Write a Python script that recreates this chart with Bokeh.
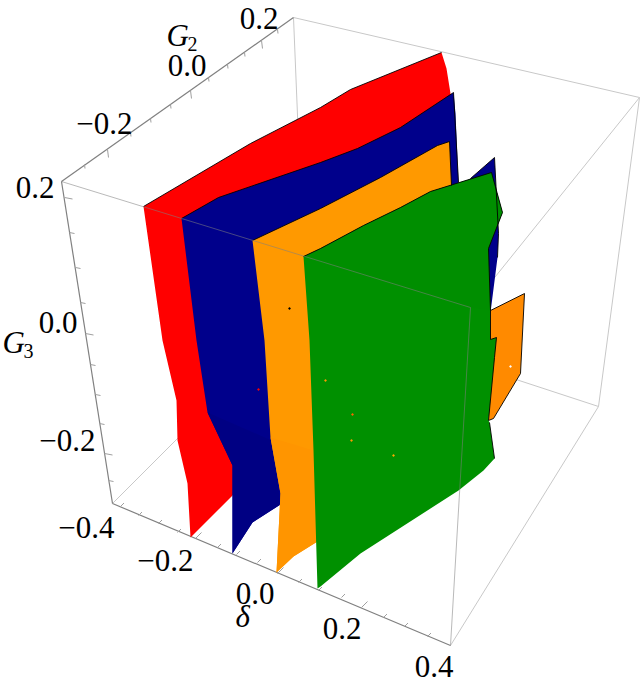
from bokeh.plotting import figure
from bokeh.models import Range1d
from bokeh.core.properties import value
from bokeh.embed import file_html
from bokeh.resources import INLINE

# projected outlines of the surfaces (x, y in image units)
red_x = [143, 162, 176, 177, 187, 190, 232, 300, 458, 450, 446, 441, 350, 320, 250]
red_y = [206, 340, 400, 440, 483, 537, 495, 400, 200, 93, 68, 52, 89, 107, 143]
blue_x = [181, 196, 207, 232, 232, 252, 280, 320, 458, 455, 453, 400, 357, 320, 218]
blue_y = [218, 340, 412, 465, 553, 522, 504, 480, 182, 113, 92, 127, 148, 162, 197]
blue2_x = [460, 470, 494, 498, 497, 490, 470]
blue2_y = [186, 178, 157, 233, 257, 312, 312]
orange_x = [252, 264, 270, 280, 276, 293, 317, 340, 451, 449, 437, 380, 320]
orange_y = [240, 340, 437, 493, 572, 556, 541, 500, 185, 141, 145, 177, 208]
orange2_x = [490, 524, 520, 493, 488]
orange2_y = [310, 293, 373, 418, 420]
green_x = [303, 309, 313, 317, 320, 360, 458, 483, 494, 489, 488, 494, 496, 490, 490, 488, 502, 491, 430, 400, 363, 320]
green_y = [256, 340, 450, 588, 586, 553, 490, 470, 458, 422, 420, 357, 337, 339, 310, 248, 212, 172, 191, 207, 225, 248]

# slightly darker shading regions
blue_low_x = [207, 232, 232, 252, 280, 271]
blue_low_y = [412, 465, 553, 522, 504, 440]
orange_low_x = [270, 280, 276, 293, 317, 313]
orange_low_y = [437, 493, 572, 556, 541, 450]
green_top_x = [303, 320, 363, 400, 430, 491, 502, 488, 490, 470]
green_top_y = [256, 248, 225, 207, 191, 172, 212, 248, 310, 307]

# black edges
edge_x = [[143, 250, 320, 350, 441], [181, 218, 320, 357, 400, 453, 458], [252, 320, 380, 437, 449, 451],
          [303, 320, 363, 400, 430, 491, 502, 488, 490, 490, 496, 494, 488], [489, 494],
          [470, 494, 498, 497], [490, 524, 520, 493, 488]]
edge_y = [[206, 143, 107, 89, 52], [218, 197, 162, 148, 127, 92, 182], [240, 208, 177, 145, 141, 185],
          [256, 248, 225, 207, 191, 172, 212, 248, 310, 339, 337, 357, 420], [422, 458],
          [178, 157, 233, 257], [310, 293, 373, 418, 420]]

# box frame
back_x = [[293, 305], [112, 305], [598, 305]]
back_y = [[17, 310], [503, 310], [406, 310]]
light_x = [[293, 639], [639, 470], [639, 598], [598, 450]]
light_y = [[17, 97], [97, 307], [97, 406], [406, 645]]
front_x = [[61, 470], [470, 450]]
front_y = [[181, 307], [307, 645]]
axis_x = [[61, 293], [61, 112], [112, 450]]
axis_y = [[181, 17], [181, 503], [503, 645]]

# ticks
g2_tick_x = [84, 107, 130, 150, 170, 190, 208, 227, 244, 261, 277]
g2_tick_y = [164, 149, 132, 118, 104, 90, 77, 64, 52, 40, 29]
g2_major = [107, 190, 261]
g3_tick_x = [64, 69, 75, 80, 85, 90, 95, 99, 104, 108]
g3_tick_y = [197, 232, 267, 302, 333, 364, 394, 423, 453, 480]
g3_major = [197, 333, 453]
d_tick_x = [120, 138, 158, 177, 195, 217, 236, 257, 277, 298, 318, 341, 361, 383, 404, 427]
d_tick_y = [506, 515, 523, 532, 538, 547, 554, 562, 573, 582, 590, 597, 607, 617, 626, 636]
d_major = [195, 277, 361]

# tick labels
labels = ["0.2", "0.0", "\u22120.2", "0.2", "0.0", "\u22120.2", "\u22120.4", "\u22120.2", "0.0", "0.2", "0.4"]
label_x = [278, 206, 132, 54, 77, 95, 114, 193, 274, 361, 453]
label_y = [28, 75, 133, 197, 332, 450, 537, 570, 603, 638, 676]

specks_x = [325, 352, 351, 393, 510, 289, 258]
specks_y = [380, 414, 440, 455, 366, 308, 389]
specks_c = ["#ff9900", "#ff6600", "#ff9900", "#ffaa00", "#ffffff", "#000000", "#ff0000"]

p = figure(width=640, height=685, output_backend="svg", toolbar_location=None,
           x_range=Range1d(0, 640), y_range=Range1d(685, 0),
           x_axis_type=None, y_axis_type=None, min_border=0,
           outline_line_color=None, background_fill_color="white")
p.grid.visible = False

p.multi_line(back_x, back_y, line_color="#c8c8c8", line_width=1)
p.multi_line(light_x, light_y, line_color="#c8c8c8", line_width=1)
p.multi_line(axis_x, axis_y, line_color="#808080", line_width=1.2)

p.patch(red_x, red_y, fill_color="#ff0000", line_color=None)
p.patch(blue_x, blue_y, fill_color="#00008b", line_color=None)
p.patch(blue_low_x, blue_low_y, fill_color="#000083", line_color=None)
p.patch(blue2_x, blue2_y, fill_color="#00008b", line_color=None)
p.patch(orange2_x, orange2_y, fill_color="#ff8a00", line_color=None)
p.patch(orange_x, orange_y, fill_color="#ff9900", line_color=None)
p.patch(orange_low_x, orange_low_y, fill_color="#ff9500", line_color=None)
p.patch(green_x, green_y, fill_color="#009000", line_color=None)
p.patch(green_top_x, green_top_y, fill_color="#008e00", line_color=None)

p.multi_line(edge_x, edge_y, line_color="black", line_width=0.9)
p.multi_line(front_x, front_y, line_color="#808080", line_width=1, line_alpha=0.55)
p.scatter(specks_x, specks_y, size=1.2, marker="square", color=specks_c)


def ticks(xs, ys, major, key, dx, dy, dxm, dym):
    tx, ty = [], []
    for x, y in zip(xs, ys):
        big = (x if key == "x" else y) in major
        tx.append([x, x + (dxm if big else dx)])
        ty.append([y, y + (dym if big else dy)])
    p.multi_line(tx, ty, line_color="#a0a0a0", line_width=1)


ticks(g2_tick_x, g2_tick_y, g2_major, "x", 0.5, 4, 1, 8)
ticks(g3_tick_x, g3_tick_y, g3_major, "y", 5, 1, 8, 1.5)
ticks(d_tick_x, d_tick_y, d_major, "x", 3.5, -3.5, 6, -6)

SERIF = value("Liberation Serif")
UP = -10
p.text(label_x, label_y, text=labels, text_font=SERIF, text_font_size="31px", y_offset=UP,
       text_align="right", text_baseline="alphabetic", text_color="black")
p.text([166, 2], [45, 352], text=["G", "G"], text_font=SERIF, text_font_size="31px", text_font_style="italic",
       y_offset=UP, text_align="left", text_baseline="alphabetic", text_color="black")
p.text([187, 23], [50, 357], text=["2", "3"], text_font=SERIF, text_font_size="20px", y_offset=UP + 3,
       text_align="left", text_baseline="alphabetic", text_color="black")
p.text([235], [626], text=["\u03b4"], text_font=SERIF, text_font_size="31px", text_font_style="italic",
       y_offset=UP, text_align="left", text_baseline="alphabetic", text_color="black")

open("out.html", "w").write(file_html(p, INLINE))
